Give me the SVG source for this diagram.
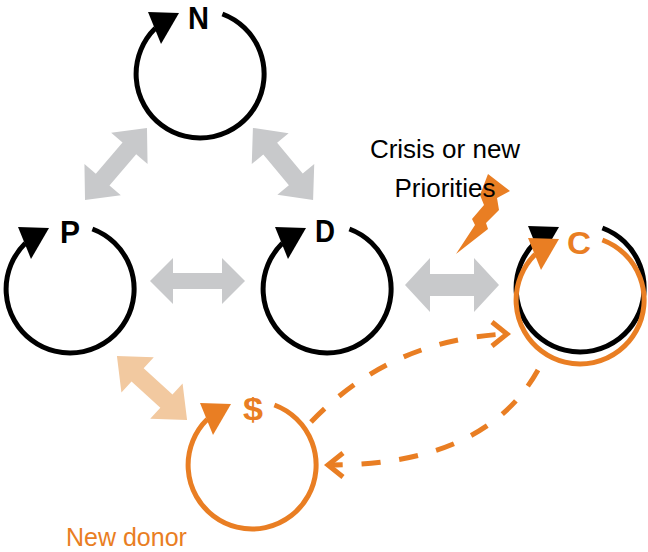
<svg xmlns="http://www.w3.org/2000/svg" width="648" height="552" viewBox="0 0 648 552">
<style>
.ring{fill:none;stroke-width:5}
.blk{stroke:#000}
.org{stroke:#E97E23}
.lbl{font-family:"Liberation Sans",Arial,sans-serif;font-weight:bold;font-size:32px;text-anchor:middle}
.txt{font-family:"Liberation Sans",Arial,sans-serif;font-size:26px}
.dash{fill:none;stroke:#E97E23;stroke-width:5;stroke-dasharray:19 19}
.chev{fill:none;stroke:#E97E23;stroke-width:5}
.gray{fill:#C8C9CB}
.peach{fill:#F2C9A0}
</style>
<defs>
<path id="arc" d="M22.4,-60 A64 64 0 1 1 -44.7,-45.7"/>
<polygon id="head" points="-52,-62 -21,-61 -39,-30"/>
</defs>
<g id="connectors">
<polygon class="gray" transform="translate(116,164) rotate(-49.3)" points="-47.5,0 -20.5,-24 -20.5,-9 20.5,-9 20.5,-24 47.5,0 20.5,24 20.5,9 -20.5,9 -20.5,24"/>
<polygon class="gray" transform="translate(283,164) rotate(50.2)" points="-47,0 -20,-24 -20,-9 20,-9 20,-24 47,0 20,24 20,9 -20,9 -20,24"/>
<polygon class="gray" transform="translate(197.5,281)" points="-47.5,0 -24.5,-23 -24.5,-8 24.5,-8 24.5,-23 47.5,0 24.5,23 24.5,8 -24.5,8 -24.5,23"/>
<polygon class="gray" transform="translate(452,285)" points="-47,0 -22,-27 -22,-11 22,-11 22,-27 47,0 22,27 22,11 -22,11 -22,27"/>
<polygon class="peach" transform="translate(152,388) rotate(42.4)" points="-47.5,0 -19.5,-24 -19.5,-9 19.5,-9 19.5,-24 47.5,0 19.5,24 19.5,9 -19.5,9 -19.5,24"/>
<path class="dash" d="M311,422 Q390,340 505,334"/>
<polyline class="chev" points="492,322 507,334 492,346"/>
<path class="dash" d="M538,370 Q485,465 330,465"/>
<polyline class="chev" points="343,453 328,465 343,477"/>
</g>
<g id="node-N" transform="translate(200,74)">
<use href="#arc" class="ring blk"/>
<use href="#head" fill="#000"/>
<text class="lbl" x="-1.5" y="-45" style="font-size:31px" textLength="21" lengthAdjust="spacingAndGlyphs">N</text>
</g>
<g id="node-P" transform="translate(70,289)">
<use href="#arc" class="ring blk"/>
<use href="#head" fill="#000"/>
<text class="lbl" x="0" y="-46" textLength="20" lengthAdjust="spacingAndGlyphs">P</text>
</g>
<g id="node-D" transform="translate(327,289)">
<use href="#arc" class="ring blk"/>
<use href="#head" fill="#000"/>
<text class="lbl" x="-2" y="-47" textLength="20" lengthAdjust="spacingAndGlyphs">D</text>
</g>
<g id="node-C-black" transform="translate(580,288)">
<use href="#arc" class="ring blk"/>
<use href="#head" fill="#000"/>
</g>
<g id="node-C" transform="translate(580,300)">
<use href="#arc" class="ring org"/>
<use href="#head" fill="#E97E23"/>
<text class="lbl" x="-1" y="-46" fill="#E97E23" textLength="24" lengthAdjust="spacingAndGlyphs">C</text>
</g>
<g id="node-dollar" transform="translate(252,465)">
<use href="#arc" class="ring org"/>
<use href="#head" fill="#E97E23"/>
<text class="lbl" x="1" y="-45" fill="#E97E23" textLength="20" lengthAdjust="spacingAndGlyphs">$</text>
</g>
<g id="crisis">
<polygon fill="#E97E23" points="488,174 510,191 497,198 499,210 486,223 488,229 456,254 475,225 472,219 484,205 480,195"/>
<text class="txt" x="445" y="158" text-anchor="middle">Crisis or new</text>
<text class="txt" x="445" y="197" text-anchor="middle">Priorities</text>
</g>
<g id="new-donor">
<text class="txt" x="66" y="546" fill="#E97E23" style="font-size:25px">New donor</text>
</g>
</svg>
